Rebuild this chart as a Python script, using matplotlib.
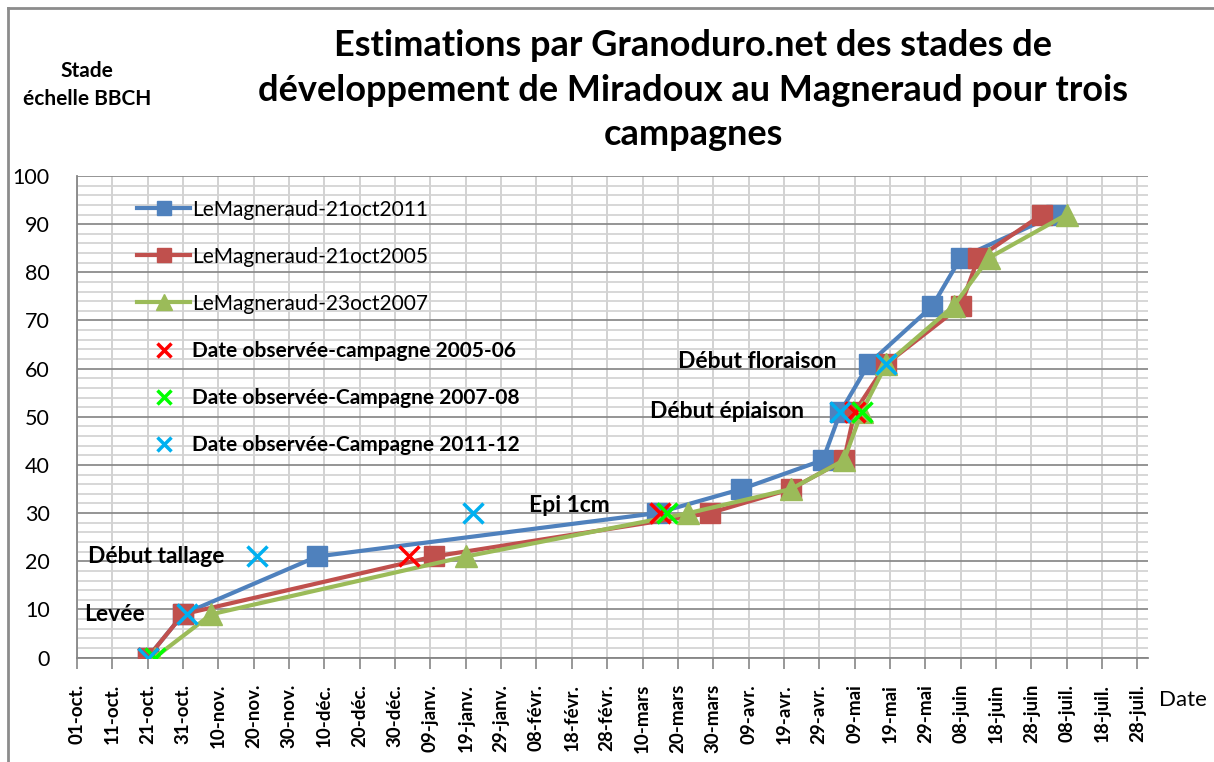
import datetime as dt
import matplotlib
matplotlib.use('Agg')
import matplotlib.pyplot as plt
import matplotlib.dates as mdates
from matplotlib.lines import Line2D
from matplotlib.ticker import MultipleLocator, FixedLocator, FuncFormatter

plt.rcParams['font.family'] = ['Lato', 'DejaVu Sans']

# stades BBCH et dates (jj/mm) ramenées sur une campagne commune oct -> juil
stades = [0, 9, 21, 30, 35, 41, 51, 61, 73, 83, 92]
dates_2011 = ['21/10', '31/10', '08/12', '14/03', '07/04', '30/04', '05/05', '13/05', '31/05', '08/06', '05/07']
dates_2005 = ['21/10', '31/10', '10/01', '29/03', '21/04', '06/05', '09/05', '18/05', '08/06', '13/06', '01/07']
dates_2007 = ['23/10', '08/11', '19/01', '23/03', '21/04', '06/05', '11/05', '18/05', '06/06', '16/06', '08/07']

obs_2005_stades = [0, 21, 30, 51]
obs_2005_dates = ['21/10', '03/01', '15/03', '09/05']
obs_2007_stades = [0, 30, 51]
obs_2007_dates = ['23/10', '17/03', '11/05']
obs_2011_stades = [0, 9, 21, 30, 51, 61]
obs_2011_dates = ['21/10', '01/11', '21/11', '21/01', '05/05', '18/05']

mois = {10: 'oct.', 11: 'nov.', 12: 'déc.', 1: 'janv.', 2: 'févr.', 3: 'mars',
        4: 'avr.', 5: 'mai', 6: 'juin', 7: 'juil.'}

notes = ['Levée', 'Début tallage', 'Epi 1cm', 'Début épiaison', 'Début floraison']
notes_pos = [('03/10', 9), ('04/10', 21), ('06/02', 31.5), ('12/03', 51), ('20/03', 61.5)]


def to_date(s):
    d, m = map(int, s.split('/'))
    year = 2013 if m >= 9 else 2014
    return dt.date(year, m, d)


fig = plt.figure(figsize=(12.14, 7.62), dpi=100)
ax = fig.add_axes([0.0634, 0.137, 0.8822, 0.632])

blue = '#4F81BD'
red = '#C0504D'
green = '#9BBB59'

ax.plot([to_date(s) for s in dates_2011], stades, color=blue, lw=3, marker='s', ms=14,
        label='LeMagneraud-21oct2011', zorder=3)
ax.plot([to_date(s) for s in dates_2005], stades, color=red, lw=3, marker='s', ms=14,
        label='LeMagneraud-21oct2005', zorder=4)
ax.plot([to_date(s) for s in dates_2007], stades, color=green, lw=3, marker='^', ms=16,
        label='LeMagneraud-23oct2007', zorder=5)

ax.plot([to_date(s) for s in obs_2005_dates], obs_2005_stades, ls='none', marker='x', ms=14,
        mew=2.5, color='#FF0000', label='Date observée-campagne 2005-06', zorder=6)
ax.plot([to_date(s) for s in obs_2007_dates], obs_2007_stades, ls='none', marker='x', ms=14,
        mew=2.5, color='#00FF00', label='Date observée-Campagne 2007-08', zorder=7)
ax.plot([to_date(s) for s in obs_2011_dates], obs_2011_stades, ls='none', marker='x', ms=14,
        mew=2.5, color='#00B0F0', label='Date observée-Campagne 2011-12', zorder=8)

for txt, (d, v) in zip(notes, notes_pos):
    ax.text(to_date(d), v, txt, fontsize=16.5, fontweight='bold', ha='left', va='center', zorder=9)

# axes
start = dt.date(2013, 10, 1)
ticks = [start + dt.timedelta(days=10 * k) for k in range(31)]
ax.set_xlim(start, start + dt.timedelta(days=303))
ax.xaxis.set_major_locator(FixedLocator(mdates.date2num(ticks)))
ax.xaxis.set_major_formatter(FuncFormatter(
    lambda x, pos: '%02d-%s' % (mdates.num2date(x).day, mois[mdates.num2date(x).month])))
ax.set_ylim(0, 100)
ax.yaxis.set_major_locator(MultipleLocator(10))
ax.yaxis.set_minor_locator(MultipleLocator(2))

for lab in ax.get_xticklabels():
    lab.set_rotation(90)
    lab.set_fontweight('bold')
    lab.set_fontsize(13.5)
ax.tick_params(axis='x', length=8, width=1.2, color='#868686', pad=11)
ax.tick_params(axis='y', which='both', length=0, labelsize=15.5, pad=19.5)

ax.grid(axis='y', which='major', color='#8C8C8C', lw=1.3)
ax.grid(axis='y', which='minor', color='#D4D4D4', lw=1.3)
ax.grid(axis='x', which='major', color='#CFCFCF', lw=1.3)
ax.set_axisbelow(True)
for side in ['top', 'right']:
    ax.spines[side].set_visible(False)
for side in ['left', 'bottom']:
    ax.spines[side].set_color('#868686')
    ax.spines[side].set_linewidth(1.3)

leg = ax.legend(loc='upper left', bbox_to_anchor=(0.039, 0.99), frameon=False, fontsize=15,
                labelspacing=1.3, handlelength=2.5, handletextpad=0.12, markerscale=0.7)
for t in leg.get_texts()[3:]:
    t.set_fontweight('bold')
    t.set_fontsize(15)

fig.text(0.571, 0.9615, 'Estimations par Granoduro.net des stades de\n'
         'développement de Miradoux au Magneraud pour trois\ncampagnes',
         ha='center', va='top', fontsize=26, fontweight='bold', linespacing=1.42)
fig.text(0.0717, 0.888, 'Stade\néchelle BBCH', ha='center', va='center', fontsize=15,
         fontweight='bold', linespacing=1.5)
fig.text(0.955, 0.081, 'Date', ha='left', va='center', fontsize=16)

# cadre du graphique
fig.add_artist(Line2D([0.007, 0.007], [0, 0.99], color='#8C8C8C', lw=2))
fig.add_artist(Line2D([0.007, 1], [0.99, 0.99], color='#8C8C8C', lw=2))

fig.savefig('out.png', dpi=100)
